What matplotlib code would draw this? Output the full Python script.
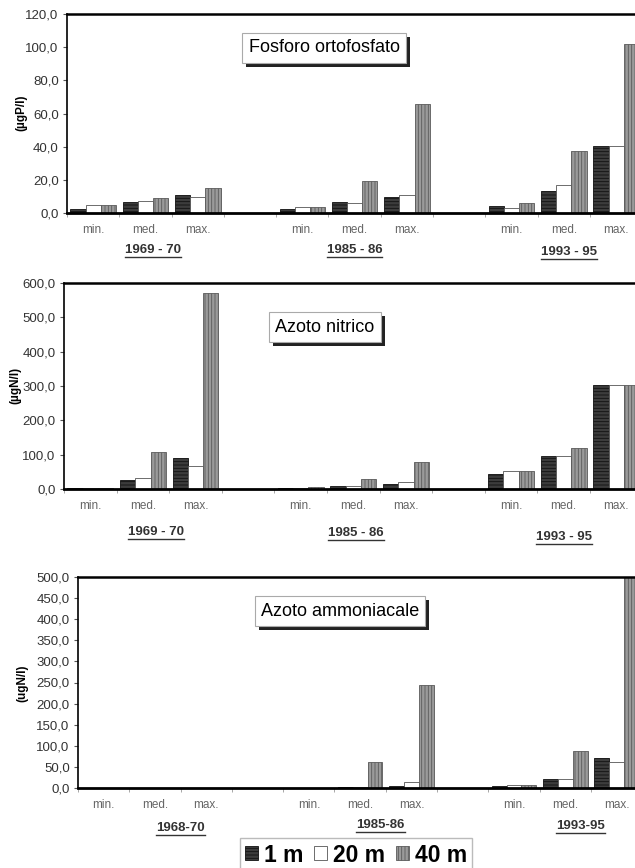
import numpy as np
import matplotlib
matplotlib.use("Agg")
import matplotlib.pyplot as plt
from matplotlib.patches import Rectangle, Patch
from matplotlib.lines import Line2D
from matplotlib.transforms import IdentityTransform

plt.rcParams["font.family"] = ["Liberation Sans", "DejaVu Sans"]
plt.rcParams["hatch.linewidth"] = 0.6

# --- data -------------------------------------------------------------
stats = ["min.", "med.", "max."]
periods_p = ["1969 - 70", "1985 - 86", "1993 - 95"]
periods_no3 = ["1969 - 70", "1985 - 86", "1993 - 95"]
periods_nh4 = ["1968-70", "1985-86", "1993-95"]
depths = ["1 m", "20 m", "40 m"]

# fosforo ortofosfato (ugP/l): min, med, max for each period
p_1m = [2.4, 6.4, 10.8, 2.6, 6.6, 9.8, 4.4, 13.3, 40.2]
p_20m = [4.8, 7.0, 9.8, 3.6, 6.2, 11.0, 3.2, 16.7, 40.4]
p_40m = [4.8, 9.2, 14.9, 3.6, 19.3, 65.9, 6.0, 37.1, 102.0]

# azoto nitrico (ugN/l)
no3_1m = [3, 26, 91, 2, 8, 16, 44, 95, 303]
no3_20m = [4, 31, 66, 4, 10, 19, 53, 95, 303]
no3_40m = [4, 108, 571, 6, 30, 80, 53, 119, 303]

# azoto ammoniacale (ugN/l), no data for 1968-70
nh4_1m = [np.nan, np.nan, np.nan, 0, 1.6, 5, 5.5, 22, 71]
nh4_20m = [np.nan, np.nan, np.nan, 0, 3, 15, 6, 22, 62]
nh4_40m = [np.nan, np.nan, np.nan, 0, 62, 243, 6, 88, 500]

# --- styling ------------------------------------------------------------
bar_styles = [
    dict(facecolor="#3c3c3c", edgecolor="#111111", hatch="-----"),
    dict(facecolor="white", edgecolor="#555555"),
    dict(facecolor="#9a9a9a", edgecolor="#5a5a5a", hatch="|||||"),
]
slots = [0, 1, 2, 4, 5, 6, 8, 9, 10]
W = 635
H = 868

fig = plt.figure(figsize=(W / 100, H / 100), dpi=100)


def px_axes(left, top, bottom, slot_px):
    width = slot_px * 12
    return fig.add_axes([left / W, 1 - bottom / H, width / W, (bottom - top) / H])


def panel(ax, series, ymax, ystep, ylabel, ylab_xy, title, title_xy, periods, year_pos):
    w = 0.29
    for k, vals in enumerate(series):
        ax.bar(np.array(slots) + (k - 1) * w, vals, width=w, linewidth=0.6,
               zorder=2, **bar_styles[k])
    ax.set_xlim(-0.5, 11.5)
    ax.set_ylim(0, ymax)
    yt = np.arange(0, ymax + 1, ystep)
    ax.set_yticks(yt)
    ax.set_yticklabels([f"{v:.1f}".replace(".", ",") for v in yt],
                       fontsize=9.5, color="#333333")
    ax.set_xticks(slots)
    ax.set_xticklabels(stats * 3, fontsize=8.5, color="#666666")
    ax.set_xticks(np.arange(-0.5, 12, 1), minor=True)
    ax.tick_params(axis="x", which="major", length=0, pad=8)
    ax.tick_params(axis="x", which="minor", length=3, color="#999999")
    ax.tick_params(axis="y", length=3, color="#555555", pad=3)
    ax.spines["top"].set_linewidth(1.8)
    ax.spines["bottom"].set_linewidth(2.0)
    ax.spines["left"].set_linewidth(1.2)
    ax.spines["right"].set_visible(False)

    fig.text(ylab_xy[0] / W, 1 - ylab_xy[1] / H, ylabel, rotation=90,
             ha="center", va="center", fontsize=8.5, fontweight="bold")

    t = fig.text(title_xy[0] / W, 1 - title_xy[1] / H, title, ha="center",
                 va="center", fontsize=13, zorder=5,
                 bbox=dict(boxstyle="square,pad=0.35", facecolor="white",
                           edgecolor="#aaaaaa", linewidth=0.8))

    years = []
    for lbl, (xd, dy) in zip(periods, year_pos):
        years.append(ax.annotate(lbl, xy=(xd, 0), xycoords=("data", "axes fraction"),
                                 xytext=(0, -dy), textcoords="offset pixels",
                                 ha="center", va="center", fontsize=9.5,
                                 fontweight="bold", color="#333333",
                                 annotation_clip=False))
    return t, years


ax1 = px_axes(67, 14, 213, 52.3)
ax2 = px_axes(64, 283, 489, 52.6)
ax3 = px_axes(78, 577, 788, 51.3)

items = []
items.append(panel(ax1, [p_1m, p_20m, p_40m], 120, 20, "(µgP/l)", (21, 113),
                   "Fosforo ortofosfato", (324, 48), periods_p,
                   [(1.15, 37), (5.0, 37), (9.1, 39)]))
items.append(panel(ax2, [no3_1m, no3_20m, no3_40m], 600, 100, "(µgN/l)", (15, 385),
                   "Azoto nitrico", (325, 327), periods_no3,
                   [(1.25, 43), (5.05, 44), (9.0, 48)]))
items.append(panel(ax3, [nh4_1m, nh4_20m, nh4_40m], 500, 50, "(ugN/l)", (22, 683),
                   "Azoto ammoniacale", (340, 611), periods_nh4,
                   [(1.5, 40), (5.4, 37), (9.3, 38)]))

handles = [Patch(linewidth=0.6, **s) for s in bar_styles]
fig.legend(handles, depths, loc="center", bbox_to_anchor=(356 / W, 1 - 855 / H),
           ncol=3, prop=dict(size=16.5, weight="bold"), handlelength=0.55,
           handleheight=0.55, handletextpad=0.25, columnspacing=0.5,
           fancybox=False, edgecolor="#aaaaaa", borderpad=0.25)

# shadows behind title boxes and underlines below period labels
fig.canvas.draw()
r = fig.canvas.get_renderer()
for t, years in items:
    bb = t.get_bbox_patch().get_window_extent(r)
    fig.add_artist(Rectangle((bb.x0 + 4, bb.y0 - 4), bb.width, bb.height,
                             transform=IdentityTransform(), facecolor="#222222",
                             edgecolor="none", zorder=4))
    for y in years:
        e = y.get_window_extent(r)
        fig.add_artist(Line2D([e.x0, e.x1], [e.y0 - 1, e.y0 - 1],
                              transform=IdentityTransform(), color="#333333",
                              linewidth=1.0))

fig.savefig("out.png", dpi=100)
